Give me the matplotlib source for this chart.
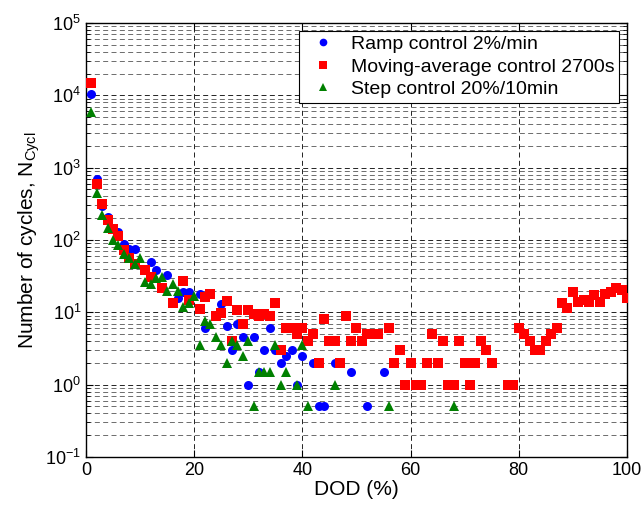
import numpy as np
from matplotlib import pyplot as plt
from matplotlib.ticker import LogLocator, NullFormatter

plt.rcParams['font.family'] = ['Liberation Sans', 'DejaVu Sans']

# Ramp control 2%/min
ramp_dod = [1, 2, 3, 4, 6, 7, 8, 9, 12, 13, 15, 17, 18, 19, 21, 22, 25, 26, 27, 28,
            29, 30, 31, 32, 33, 34, 35, 36, 37, 38, 39, 40, 42, 43, 44, 46, 49, 52, 55]
ramp_n = [10500, 690, 295, 205, 128, 89, 74, 76, 49, 39, 33, 16, 19, 19, 18, 6, 13, 6.5, 3, 7,
          4.5, 1, 4.5, 1.5, 3, 6, 3, 2, 2.5, 3, 1, 2.5, 2, 0.5, 0.5, 2, 1.5, 0.5, 1.5]

# Moving-average control 2700s
mavg_dod = [1, 2, 3, 4, 5, 6, 7, 8, 9, 11, 12, 14, 16, 18, 19, 21, 22, 23, 24, 25,
            26, 27, 28, 29, 30, 31, 32, 33, 34, 35, 36, 37, 38, 39, 40, 41, 42, 43, 44, 45,
            46, 47, 48, 49, 50, 51, 52, 53, 54, 56, 57, 58, 59, 60, 61, 62, 63, 64, 65, 66,
            67, 68, 69, 70, 71, 72, 73, 74, 75, 78, 79, 80, 81, 82, 83, 84, 85, 86, 87, 88,
            89, 90, 91, 92, 93, 94, 95, 96, 97, 98, 99, 100]
mavg_n = [15000, 600, 318, 192, 140, 112, 72, 57, 47, 39, 31, 22, 13.5, 27, 15, 11, 16.5, 18, 9, 9.7,
          14.3, 4, 10.7, 7, 10.7, 9.6, 8.8, 9.6, 8.8, 13.4, 3, 6, 6, 5, 6, 4, 5, 2, 8, 4,
          4, 2, 9, 4, 6, 4, 5, 5, 5, 6, 2, 3, 1, 2, 1, 1, 2, 5, 2, 4,
          1, 1, 4, 2, 1, 2, 4, 3, 2, 1, 1, 6, 5, 4, 3, 3, 4, 5, 6, 13.4,
          11.6, 19, 14, 14.7, 14, 17.2, 14, 18, 19, 22, 20.6, 16]

# Step control 20%/10min
step_dod = [1, 2, 3, 4, 5, 6, 7, 8, 9, 10, 11, 12, 13, 14, 15, 16, 17, 18, 19, 20,
            21, 22, 23, 24, 25, 26, 27, 28, 29, 30, 31, 32, 33, 34, 35, 36, 37, 39, 40, 41,
            46, 56, 68]
step_n = [5900, 450, 222, 145, 100, 86, 65, 56, 47, 57, 26, 25, 30, 31, 20, 25, 20, 12, 13.5, 17,
          3.5, 7.6, 7, 4.5, 3.5, 2, 4, 3.5, 2.5, 4, 0.5, 1.5, 1.5, 1.5, 3.5, 1, 1.5, 1, 3.5, 0.5,
          1, 0.5, 0.5]

fig = plt.figure(figsize=(6.44, 5.09), dpi=100)
ax = fig.add_axes([0.1335, 0.1022, 0.840, 0.8526])

ax.semilogy(ramp_dod, ramp_n, 'o', color='blue', markersize=6.5, markeredgewidth=0,
            label='Ramp control 2%/min', zorder=3)
ax.semilogy(mavg_dod, mavg_n, 's', color='red', markersize=7, markeredgewidth=0,
            label='Moving-average control 2700s', zorder=3)
ax.semilogy(step_dod, step_n, '^', color='green', markersize=7.5, markeredgewidth=0,
            label='Step control 20%/10min', zorder=3)

ax.set_xlim(0, 100)
ax.set_ylim(1e-1, 1e5)
ax.set_xticks([0, 20, 40, 60, 80, 100])
ax.yaxis.set_major_locator(LogLocator(base=10, numticks=10))
ax.yaxis.set_minor_locator(LogLocator(base=10, subs=np.arange(2, 10), numticks=20))
ax.yaxis.set_minor_formatter(NullFormatter())

ax.grid(True, which='major', axis='both', color='black', linestyle=(0, (6, 4)), linewidth=0.6)
ax.grid(True, which='minor', axis='y', color='#555555', linestyle=(0, (6, 4)), linewidth=0.6)

ax.tick_params(which='both', direction='in', top=True, right=True, labelsize=13)
ax.tick_params(which='major', length=5)
ax.tick_params(which='minor', length=3)
for s in ax.spines.values():
    s.set_linewidth(1.0)

ax.set_xlabel('DOD (%)', fontsize=15, labelpad=1)
ax.set_ylabel('Number of cycles, N$_{\\mathregular{Cycl}}$', fontsize=15, labelpad=2)

leg = ax.legend(loc='upper right', fontsize=14, fancybox=False, framealpha=1,
                edgecolor='black', handletextpad=0.4, borderpad=0.25, labelspacing=0.25,
                markerscale=0.85, borderaxespad=0.4)
leg.get_frame().set_linewidth(0.8)

fig.savefig('out.png', dpi=100)
